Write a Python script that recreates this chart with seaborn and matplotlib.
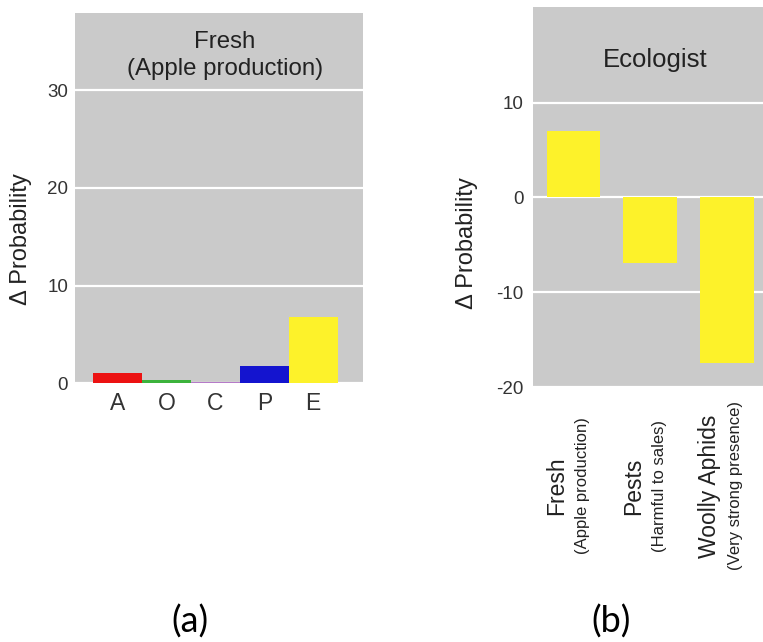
import matplotlib
matplotlib.use("Agg")
import matplotlib.pyplot as plt
import seaborn as sns
import pandas as pd

# panel (a): change in probability per trait, "Fresh" condition
traits = ["A", "O", "C", "P", "E"]
trait_delta = [1.1, 0.3, 0.1, 1.8, 6.8]
trait_colors = ["#ec1212", "#3cb33c", "#b57ac8", "#1414cf", "#fdf22a"]

# panel (b): Ecologist profile across conditions
conditions = ["Fresh", "Pests", "Woolly Aphids"]
condition_notes = ["(Apple production)", "(Harmful to sales)", "(Very strong presence)"]
eco_delta = [7.0, -6.9, -17.5]

sns.set_style("darkgrid", {
    "axes.facecolor": "#cacaca",
    "grid.color": "white",
    "axes.edgecolor": "#cacaca",
})
plt.rcParams["font.family"] = ["Liberation Sans", "DejaVu Sans"]
plt.rcParams["axes.unicode_minus"] = False
plt.rcParams["text.color"] = "#222222"
plt.rcParams["axes.labelcolor"] = "#222222"
plt.rcParams["xtick.color"] = "#333333"
plt.rcParams["ytick.color"] = "#333333"

fig = plt.figure(figsize=(7.63, 6.42), dpi=100)
W, H = 763, 642


def px_axes(left, top, right, bottom):
    return fig.add_axes([left / W, (H - bottom) / H, (right - left) / W, (bottom - top) / H])


# ---- (a)
ax1 = px_axes(75, 13, 363, 383.3)
df_a = pd.DataFrame({"trait": traits, "delta": trait_delta})
sns.barplot(data=df_a, x="trait", y="delta", hue="trait", palette=trait_colors,
            width=1.0, legend=False, saturation=1, linewidth=0, ax=ax1)
ax1.set_xlim(-0.875, 5.02)
ax1.set_ylim(0, 37.9)
ax1.set_yticks([0, 10, 20, 30])
ax1.grid(axis="x", visible=False)
ax1.grid(axis="y", linewidth=1.6)
ax1.tick_params(axis="y", length=0, pad=5, labelsize=13.5)
ax1.tick_params(axis="x", length=0, pad=6, labelsize=16.5)
ax1.set_xlabel("")
ax1.set_ylabel("Δ Probability", fontsize=17)
ax1.yaxis.set_label_coords(-0.15, 0.39)
ax1.text(0.52, 0.886, "Fresh\n(Apple production)", transform=ax1.transAxes,
         ha="center", va="center", fontsize=17.3, linespacing=1.3)
for s in ax1.spines.values():
    s.set_visible(False)

# ---- (b)
ax2 = px_axes(533, 7, 763, 387)
df_b = pd.DataFrame({"condition": conditions, "delta": eco_delta})
sns.barplot(data=df_b, x="condition", y="delta", color="#fdf22a",
            width=0.7, saturation=1, linewidth=0, ax=ax2)
ax2.set_xlim(-0.53, 2.47)
ax2.set_ylim(-20, 20.1)
ax2.set_yticks([-20, -10, 0, 10])
ax2.grid(axis="x", visible=False)
ax2.grid(axis="y", linewidth=1.6)
ax2.tick_params(axis="y", length=0, pad=7, labelsize=13.5)
ax2.tick_params(axis="x", length=0)
ax2.set_xticks(range(len(conditions)))
ax2.set_xticklabels([""] * len(conditions))
ax2.set_xlabel("")
ax2.set_ylabel("Δ Probability", fontsize=17)
ax2.yaxis.set_label_coords(-0.24, 0.38)
ax2.text(0.53, 0.86, "Ecologist", transform=ax2.transAxes,
         ha="center", va="center", fontsize=18.5)
for s in ax2.spines.values():
    s.set_visible(False)

for i, (name, note) in enumerate(zip(conditions, condition_notes)):
    ax2.annotate(name, xy=(i, 0), xycoords=("data", "axes fraction"),
                 xytext=(-17, -99), textcoords="offset pixels",
                 rotation=90, ha="center", va="center", fontsize=16.5,
                 color="#222222", annotation_clip=False)
    ax2.annotate(note, xy=(i, 0), xycoords=("data", "axes fraction"),
                 xytext=(9, -99), textcoords="offset pixels",
                 rotation=90, ha="center", va="center", fontsize=12,
                 color="#222222", annotation_clip=False)

# panel letters
fig.text(190 / W, (H - 633) / H, "(a)", family=["Lato", "DejaVu Sans"],
         fontsize=26, ha="center", va="baseline", color="black")
fig.text(611 / W, (H - 633) / H, "(b)", family=["Lato", "DejaVu Sans"],
         fontsize=26, ha="center", va="baseline", color="black")

fig.savefig("out.png", dpi=100)
